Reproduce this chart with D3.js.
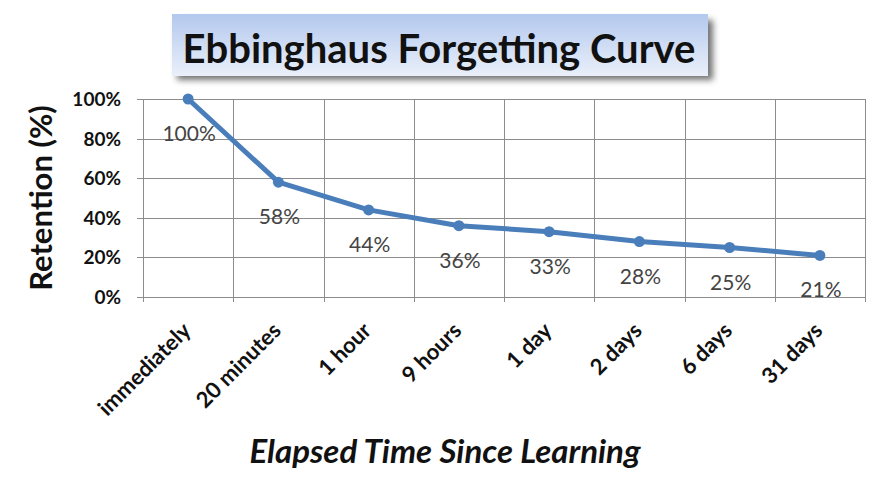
<!DOCTYPE html>
<html><head><meta charset="utf-8">
<script src="https://cdn.jsdelivr.net/npm/d3@7"></script>
<style>body{margin:0;background:#fff}svg{display:block}</style>
</head><body>
<script>
const categories = ["immediately","20 minutes","1 hour","9 hours","1 day","2 days","6 days","31 days"];
const retention = [100,58,44,36,33,28,25,21];
const yTicks = [0,20,40,60,80,100];

const W=872,H=488;
const svg=d3.select("body").append("svg").attr("width",W).attr("height",H);
const defs=svg.append("defs");
const g1=defs.append("linearGradient").attr("id","tg").attr("x1",0).attr("y1",0).attr("x2",0).attr("y2",1);
g1.append("stop").attr("offset","0%").attr("stop-color","#b3c8ee");
g1.append("stop").attr("offset","100%").attr("stop-color","#eaf0fa");
const f=defs.append("filter").attr("id","sh").attr("x","-10%").attr("y","-30%").attr("width","120%").attr("height","180%");
f.append("feGaussianBlur").attr("stdDeviation",3);

const L=143,R=865,T=99,B=297;
const x=d3.scaleBand().domain(categories).range([L,R]);
const y=d3.scaleLinear().domain([0,100]).range([B,T]);
const FONT="Lato, 'Open Sans', sans-serif";

// title box
svg.append("rect").attr("x",177).attr("y",20).attr("width",536).attr("height",60).attr("fill","#444").attr("opacity",0.75).attr("filter","url(#sh)");
svg.append("rect").attr("x",172).attr("y",14).attr("width",536).attr("height",62).attr("fill","url(#tg)");
svg.append("text").attr("x",439).attr("y",63).attr("text-anchor","middle")
  .attr("font-family",FONT).attr("font-weight","bold").attr("font-size",40).attr("fill","#111")
  .text("Ebbinghaus Forgetting Curve");

// grid
const grid=svg.append("g").attr("stroke","#8c8c8c").attr("stroke-width",1);
yTicks.forEach(t=>{grid.append("line").attr("x1",L-6).attr("x2",R).attr("y1",Math.round(y(t))+0.5).attr("y2",Math.round(y(t))+0.5);});
const bounds=categories.map(c=>x(c)).concat([R]);
bounds.forEach(b=>{grid.append("line").attr("x1",Math.round(b)+0.5).attr("x2",Math.round(b)+0.5).attr("y1",T).attr("y2",B+5);});

// y axis labels
svg.append("g").selectAll("text").data(yTicks).join("text")
  .attr("x",121).attr("y",d=>y(d)+7).attr("text-anchor","end")
  .attr("font-family",FONT).attr("font-weight","bold").attr("font-size",19).attr("fill","#111")
  .text(d=>d+"%");
svg.append("text").attr("transform","translate(52,198) rotate(-90)").attr("text-anchor","middle")
  .attr("font-family",FONT).attr("font-weight","bold").attr("font-size",31).attr("fill","#111")
  .text("Retention (%)");

// x labels
svg.append("g").selectAll("text").data(categories).join("text")
  .attr("transform",d=>`translate(${x(d)+x.bandwidth()/2+4},${332}) rotate(-45)`)
  .attr("text-anchor","end")
  .attr("font-family",FONT).attr("font-weight","bold").attr("font-size",22).attr("fill","#111")
  .text(d=>d);
svg.append("text").attr("x",445).attr("y",463).attr("text-anchor","middle")
  .attr("font-family",FONT).attr("font-weight","bold").attr("font-style","italic").attr("font-size",33).attr("fill","#111")
  .text("Elapsed Time Since Learning");

// line
const cx=(d,i)=>x(categories[i])+x.bandwidth()/2;
const line=d3.line().x((d,i)=>cx(d,i)).y(d=>y(d));
svg.append("path").datum(retention).attr("d",line).attr("fill","none").attr("stroke","#4a7ebb").attr("stroke-width",5).attr("stroke-linejoin","round");
svg.append("g").selectAll("circle").data(retention).join("circle")
  .attr("cx",(d,i)=>cx(d,i)).attr("cy",d=>y(d)).attr("r",5.5).attr("fill","#4a7ebb");
svg.append("g").selectAll("text").data(retention).join("text")
  .attr("x",(d,i)=>cx(d,i)+1).attr("y",d=>y(d)+42).attr("text-anchor","middle")
  .attr("font-family",FONT).attr("font-size",21).attr("fill","#444")
  .text(d=>d+"%");
</script>
</body></html>
